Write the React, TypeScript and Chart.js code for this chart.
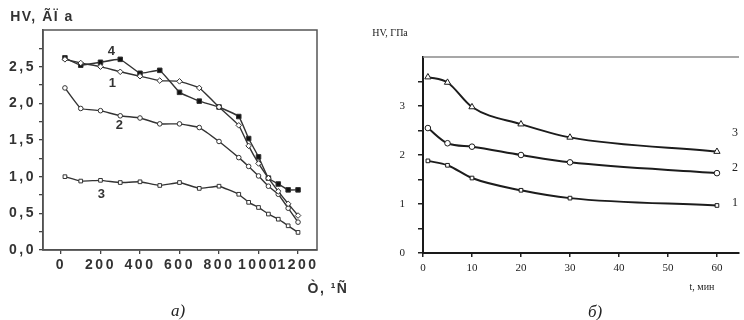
import React, { useEffect, useRef } from "react";
import { Chart, registerables } from "chart.js";

Chart.register(...registerables);

// ---------- Left chart (a): HV vs temperature ----------
const T_VALUES = [20, 100, 200, 300, 400, 500, 600, 700, 800, 900, 950, 1000, 1050, 1100, 1150, 1200];
const HV_A1 = [2.6, 2.55, 2.5, 2.43, 2.37, 2.31, 2.3, 2.21, 1.95, 1.7, 1.42, 1.18, 0.98, 0.8, 0.63, 0.47];
const HV_A2 = [2.21, 1.93, 1.9, 1.83, 1.8, 1.72, 1.72, 1.67, 1.48, 1.26, 1.14, 1.01, 0.87, 0.76, 0.57, 0.38];
const HV_A3 = [1.0, 0.94, 0.95, 0.92, 0.93, 0.88, 0.92, 0.84, 0.87, 0.76, 0.65, 0.58, 0.49, 0.42, 0.33, 0.24];
const HV_A4 = [2.62, 2.52, 2.56, 2.6, 2.41, 2.45, 2.15, 2.03, 1.95, 1.82, 1.52, 1.27, 0.98, 0.9, 0.82, 0.82];
const A_X_TICKS = [0, 200, 400, 600, 800, 1000, 1200];
const A_Y_TICKS = [0, 0.25, 0.5, 0.75, 1.0, 1.25, 1.5, 1.75, 2.0, 2.25, 2.5, 2.75];

// ---------- Right chart (б): HV vs time ----------
const T_MIN = [1, 5, 10, 20, 30, 60];
const HV_B1 = [1.88, 1.79, 1.53, 1.28, 1.12, 0.97];
const HV_B2 = [2.55, 2.24, 2.17, 2.0, 1.85, 1.63];
const HV_B3 = [3.59, 3.48, 2.98, 2.63, 2.36, 2.07];
const B_X_TICKS = [0, 10, 20, 30, 40, 50, 60];
const B_Y_TICKS = [0, 0.5, 1, 1.5, 2, 2.5, 3, 3.5];

const SANS = "'Liberation Sans', Arial, sans-serif";
const SERIF = "'Liberation Serif', 'Times New Roman', serif";

const pts = (xs: number[], ys: number[]) => xs.map((x, i) => ({ x, y: ys[i] }));

const spacingPlugin = (sp: string) => ({
  id: "spacing",
  beforeLayout(chart: any) {
    chart.ctx.letterSpacing = sp;
  },
  beforeDraw(chart: any) {
    chart.ctx.letterSpacing = sp;
  },
});

const frameA = {
  id: "frameA",
  afterDatasetsDraw(chart: any) {
    const { ctx, chartArea: a } = chart;
    ctx.save();
    ctx.strokeStyle = "#555";
    ctx.lineWidth = 1.5;
    ctx.strokeRect(a.left, a.top, a.right - a.left, a.bottom - a.top);
    ctx.restore();
  },
};

const frameB = {
  id: "frameB",
  afterDatasetsDraw(chart: any) {
    const { ctx, chartArea: a } = chart;
    ctx.save();
    ctx.strokeStyle = "#8a8a8a";
    ctx.lineWidth = 1.5;
    ctx.beginPath();
    ctx.moveTo(a.left, a.top);
    ctx.lineTo(a.right, a.top);
    ctx.stroke();
    ctx.restore();
  },
};

function Label(props: { x: number; y: number; text: string; style?: React.CSSProperties }) {
  return (
    <div
      style={{
        position: "absolute",
        left: props.x,
        top: props.y,
        transform: "translate(-50%, -50%)",
        whiteSpace: "nowrap",
        lineHeight: 1,
        ...props.style,
      }}
    >
      {props.text}
    </div>
  );
}

export default function App() {
  const refA = useRef<HTMLCanvasElement>(null);
  const refB = useRef<HTMLCanvasElement>(null);

  useEffect(() => {
    const lineA = "#333";
    const dsA = (data: any[], style: string, radius: number, fill: string) => ({
      data,
      borderColor: lineA,
      borderWidth: 1.4,
      pointStyle: style,
      pointRadius: radius,
      pointBackgroundColor: fill,
      pointBorderColor: lineA,
      pointBorderWidth: 1,
      tension: 0.1,
    });
    const chartA = new Chart(refA.current!, {
      type: "line",
      data: {
        datasets: [
          dsA(pts(T_VALUES, HV_A1), "rectRot", 2.8, "#fff"),
          dsA(pts(T_VALUES, HV_A2), "circle", 2.3, "#fff"),
          dsA(pts(T_VALUES, HV_A3), "rect", 2.6, "#fff"),
          dsA(pts(T_VALUES, HV_A4), "rect", 3.2, "#111"),
        ] as any,
      },
      options: {
        animation: false,
        responsive: false,
        devicePixelRatio: 1,
        layout: { padding: { top: 30, right: 55, bottom: 40, left: 0 } },
        plugins: { legend: { display: false }, tooltip: { enabled: false } },
        scales: {
          x: {
            type: "linear",
            min: -91,
            max: 1296,
            afterFit: (s: any) => {
              s.height = 30;
            },
            afterBuildTicks: (s: any) => {
              s.ticks = A_X_TICKS.map((value) => ({ value }));
            },
            ticks: {
              autoSkip: false,
              maxRotation: 0,
              padding: 3,
              color: "#333",
              font: { family: SANS, size: 14, weight: "bold" },
              callback: (v: any) => String(v),
            },
            grid: { drawOnChartArea: false, tickLength: 4, color: "#444", lineWidth: 1.3 },
            border: { display: true, color: "#444", width: 1.5 },
          },
          y: {
            type: "linear",
            min: 0,
            max: 3.0,
            afterFit: (s: any) => {
              s.width = 43;
            },
            afterBuildTicks: (s: any) => {
              s.ticks = A_Y_TICKS.map((value) => ({ value }));
            },
            ticks: {
              autoSkip: false,
              padding: 3,
              color: "#333",
              font: { family: SANS, size: 14, weight: "bold" },
              callback: (v: any) =>
                Math.abs(v * 2 - Math.round(v * 2)) < 1e-6 ? Number(v).toFixed(1).replace(".", ",") : "",
            },
            grid: { drawOnChartArea: false, tickLength: 4, color: "#444", lineWidth: 1.3 },
            border: { display: true, color: "#444", width: 1.5 },
          },
        },
      } as any,
      plugins: [spacingPlugin("2.5px"), frameA],
    });

    const lineB = "#1c1c1c";
    const dsB = (data: any[], style: string, radius: number) => ({
      data,
      borderColor: lineB,
      borderWidth: 2,
      pointStyle: style,
      pointRadius: radius,
      pointBackgroundColor: "#fff",
      pointBorderColor: lineB,
      pointBorderWidth: 1,
      cubicInterpolationMode: "monotone",
    });
    const chartB = new Chart(refB.current!, {
      type: "line",
      data: {
        datasets: [
          dsB(pts(T_MIN, HV_B1), "rect", 2.6),
          dsB(pts(T_MIN, HV_B2), "circle", 2.8),
          dsB(pts(T_MIN, HV_B3), "triangle", 3.6),
        ] as any,
      },
      options: {
        animation: false,
        responsive: false,
        devicePixelRatio: 1,
        layout: { padding: { top: 57, right: 0, bottom: 37, left: 0 } },
        plugins: { legend: { display: false }, tooltip: { enabled: false } },
        scales: {
          x: {
            type: "linear",
            min: 0,
            max: 64.5,
            afterFit: (s: any) => {
              s.height = 30;
            },
            afterBuildTicks: (s: any) => {
              s.ticks = B_X_TICKS.map((value) => ({ value }));
            },
            ticks: {
              autoSkip: false,
              maxRotation: 0,
              padding: 5,
              color: "#222",
              font: { family: SERIF, size: 11 },
            },
            grid: { drawOnChartArea: false, tickLength: 4, color: "#222", lineWidth: 1.5 },
            border: { display: true, color: "#1a1a1a", width: 2 },
          },
          y: {
            type: "linear",
            min: 0,
            max: 4,
            afterFit: (s: any) => {
              s.width = 51;
            },
            afterBuildTicks: (s: any) => {
              s.ticks = B_Y_TICKS.map((value) => ({ value }));
            },
            ticks: {
              autoSkip: false,
              padding: 13,
              color: "#222",
              font: { family: SERIF, size: 11 },
              callback: (v: any) => (Number.isInteger(v) ? String(v) : ""),
            },
            grid: { drawOnChartArea: false, tickLength: 5, color: "#222", lineWidth: 1.5 },
            border: { display: true, color: "#1a1a1a", width: 2 },
          },
        },
      } as any,
      plugins: [frameB],
    });

    return () => {
      chartA.destroy();
      chartB.destroy();
    };
  }, []);

  const sansBold: React.CSSProperties = {
    fontFamily: SANS,
    fontWeight: "bold",
    fontSize: 14,
    color: "#333",
    letterSpacing: "1.5px",
  };
  const serif: React.CSSProperties = { fontFamily: SERIF, color: "#222" };

  return (
    <div
      style={{
        position: "absolute",
        left: 0,
        top: 0,
        width: 744,
        height: 320,
        background: "#fff",
        overflow: "hidden",
      }}
    >
      <canvas ref={refA} width={372} height={320} style={{ position: "absolute", left: 0, top: 0 }} />
      <canvas ref={refB} width={372} height={320} style={{ position: "absolute", left: 372, top: 0 }} />

      <Label x={42} y={16} text="HV, ÃÏ a" style={sansBold} />
      <Label x={112} y={50} text="4" style={{ ...sansBold, fontSize: 13 }} />
      <Label x={113} y={82} text="1" style={{ ...sansBold, fontSize: 13 }} />
      <Label x={120} y={124} text="2" style={{ ...sansBold, fontSize: 13 }} />
      <Label x={102} y={193} text="3" style={{ ...sansBold, fontSize: 13 }} />
      <Label x={328} y={288} text="Ò, ¹Ñ" style={sansBold} />
      <Label x={178} y={310} text="a)" style={{ ...serif, fontStyle: "italic", fontSize: 17 }} />

      <Label x={390} y={33} text="HV, ГПа" style={{ ...serif, fontSize: 10 }} />
      <Label x={702} y={287} text="t, мин" style={{ ...serif, fontSize: 10 }} />
      <Label x={735} y={132} text="3" style={{ ...serif, fontSize: 12 }} />
      <Label x={735} y={167} text="2" style={{ ...serif, fontSize: 12 }} />
      <Label x={735} y={202} text="1" style={{ ...serif, fontSize: 12 }} />
      <Label x={595} y={311} text="б)" style={{ ...serif, fontStyle: "italic", fontSize: 17 }} />
    </div>
  );
}
